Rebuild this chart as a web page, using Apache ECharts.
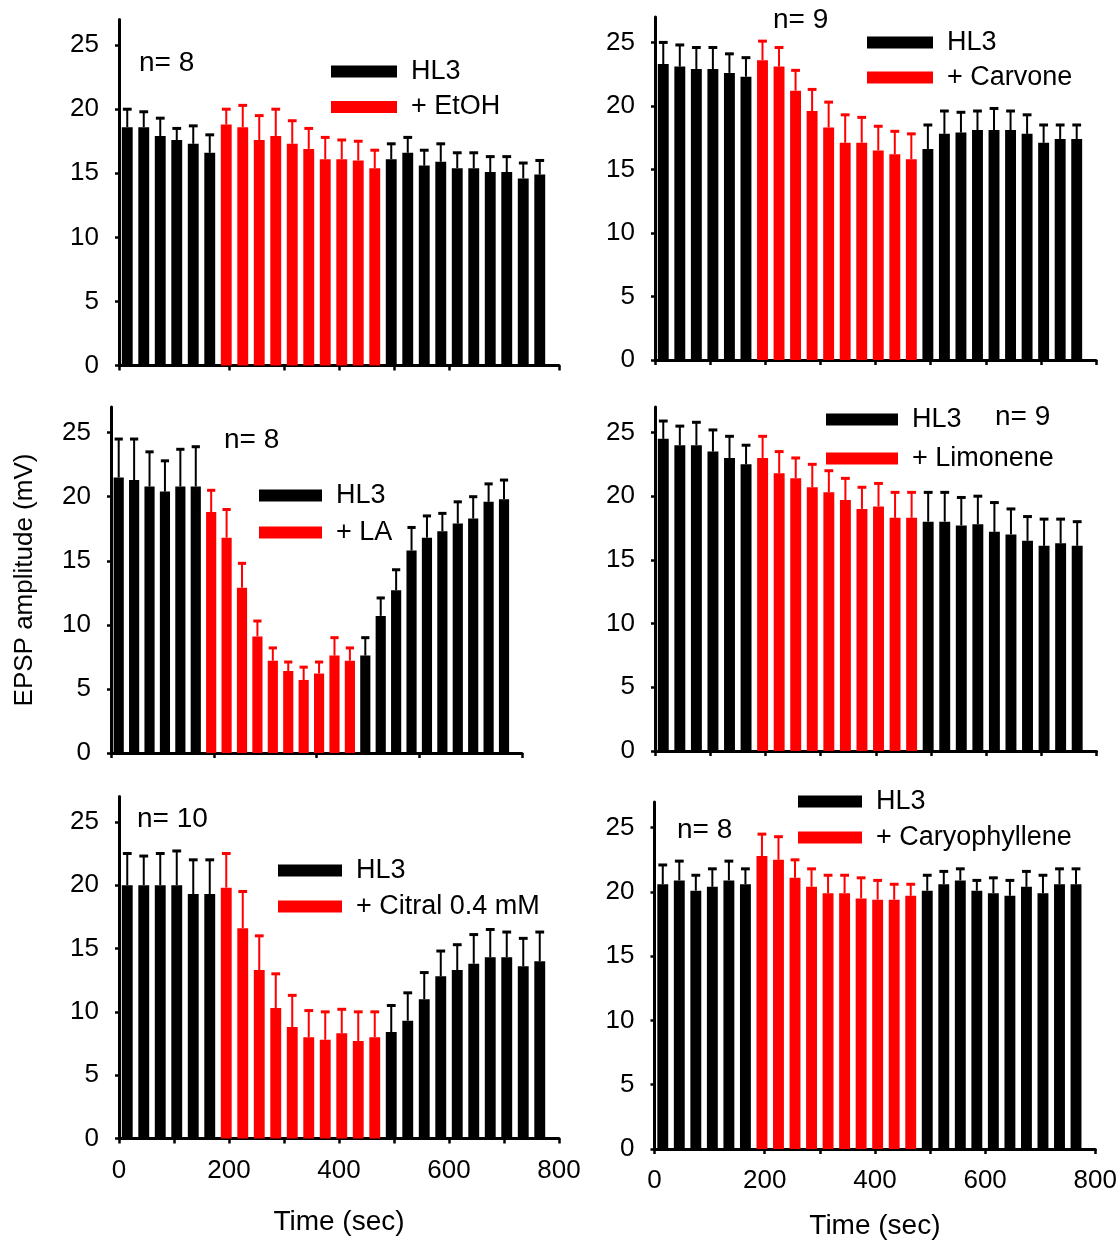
<!DOCTYPE html>
<html>
<head>
<meta charset="utf-8">
<script src="https://cdn.jsdelivr.net/npm/echarts@6/dist/echarts.min.js"></script>
<style>
  html, body { margin: 0; padding: 0; background: #ffffff; }
  #chart { width: 1120px; height: 1243px; }
</style>
</head>
<body>
<div id="chart"></div>
<script>
// Sampling times (s): one EPSP amplitude bin every 30 s
const timeSec = [15, 45, 75, 105, 135, 165, 195, 225, 255, 285, 315, 345, 375,
                 405, 435, 465, 495, 525, 555, 585, 615, 645, 675, 705, 735, 765];
// Drug perfusion window (first and last treated bin)
const drugWindow = [195, 465];

const yTickValues = [0, 5, 10, 15, 20, 25];
const xLabelValues = [0, 200, 400, 600, 800];

// Mean EPSP amplitude (mV) and SEM for each experiment
const etohMean = [18.6, 18.6, 17.9, 17.6, 17.3, 16.6, 18.8, 18.6, 17.6, 17.9, 17.3, 16.9, 16.1,
                  16.1, 16.0, 15.4, 16.1, 16.6, 15.6, 15.9, 15.4, 15.4, 15.1, 15.1, 14.6, 14.9];
const etohErr  = [1.4, 1.2, 1.4, 0.9, 1.4, 1.4, 1.2, 1.7, 1.9, 2.1, 1.8, 1.6, 1.7,
                  1.5, 1.5, 1.4, 1.2, 1.2, 1.2, 1.4, 1.2, 1.2, 1.2, 1.2, 1.2, 1.1];

const carvoneMean = [23.3, 23.1, 22.9, 22.9, 22.6, 22.3, 23.6, 23.1, 21.2, 19.6, 18.3, 17.1, 17.1,
                     16.5, 16.2, 15.8, 16.6, 17.8, 17.9, 18.1, 18.1, 18.1, 17.8, 17.1, 17.4, 17.4];
const carvoneErr  = [1.7, 1.7, 1.7, 1.7, 1.5, 1.5, 1.5, 1.5, 1.6, 1.7, 2.0, 2.2, 2.0,
                     1.9, 1.8, 2.0, 1.9, 1.8, 1.6, 1.5, 1.7, 1.5, 1.5, 1.4, 1.1, 1.1];

const laMean = [21.5, 21.3, 20.8, 20.4, 20.8, 20.8, 18.8, 16.8, 12.9, 9.1, 7.2, 6.4, 5.7,
                6.2, 7.6, 7.2, 7.6, 10.7, 12.7, 15.8, 16.8, 17.3, 17.9, 18.3, 19.6, 19.8];
const laErr  = [3.0, 3.2, 2.7, 2.4, 2.9, 3.1, 1.7, 2.2, 1.9, 1.2, 1.0, 0.7, 1.0,
                0.9, 1.4, 1.0, 1.4, 1.4, 1.6, 1.8, 1.7, 1.4, 1.7, 1.7, 1.4, 1.5];

const limoneneMean = [24.5, 24.0, 24.0, 23.5, 23.0, 22.5, 23.0, 21.8, 21.4, 20.7, 20.3, 19.7, 19.0,
                      19.2, 18.3, 18.3, 18.0, 18.0, 17.7, 17.8, 17.2, 17.0, 16.5, 16.1, 16.3, 16.1];
const limoneneErr  = [1.4, 1.5, 1.8, 1.7, 1.7, 1.5, 1.7, 1.7, 1.6, 1.8, 1.7, 1.7, 1.7,
                      1.8, 2.0, 2.0, 2.3, 2.3, 2.2, 2.2, 2.3, 2.0, 1.9, 2.1, 1.9, 1.9];

const citralMean = [20.0, 20.0, 20.0, 20.0, 19.3, 19.3, 19.8, 16.6, 13.3, 10.3, 8.8, 8.0, 7.8,
                    8.3, 7.7, 8.0, 8.4, 9.3, 11.0, 12.8, 13.3, 13.8, 14.3, 14.3, 13.6, 14.0];
const citralErr  = [2.5, 2.3, 2.5, 2.7, 2.7, 2.7, 2.7, 2.9, 2.7, 2.7, 2.5, 2.1, 2.2,
                    1.9, 2.3, 2.0, 2.1, 2.2, 2.1, 2.0, 2.0, 2.3, 2.2, 2.0, 2.2, 2.3];

const caryophylleneMean = [20.6, 20.9, 20.1, 20.4, 20.9, 20.6, 22.8, 22.5, 21.1, 20.4, 19.9, 19.9, 19.5,
                           19.4, 19.4, 19.7, 20.1, 20.6, 20.9, 20.1, 19.9, 19.7, 20.4, 19.9, 20.6, 20.6];
const caryophylleneErr  = [1.5, 1.5, 1.2, 1.4, 1.5, 1.2, 1.7, 1.8, 1.4, 1.4, 1.4, 1.4, 1.6,
                           1.5, 1.2, 0.9, 1.2, 1.0, 0.9, 0.8, 1.2, 1.2, 1.2, 1.4, 1.2, 1.2];

const BLACK = '#000000';
const RED = '#ff0000';
const FONT = '"Liberation Sans", Arial, sans-serif';

// Panel layout: plot rectangle, legend and sample-size label placement
const panels = [
  { mean: etohMean, err: etohErr, drug: '+ EtOH', n: 'n= 8',
    grid: { left: 119, top: 19.5, width: 440, height: 346 },
    xTicks: [0, 200, 300, 400, 500, 600, 800], xLabels: false,
    legend: { left: 331, cy: 71, gap: 34.5, w: 66 }, nPos: { left: 139, cy: 63 } },
  { mean: carvoneMean, err: carvoneErr, drug: '+ Carvone', n: 'n= 9',
    grid: { left: 655, top: 17, width: 441, height: 343 },
    xTicks: [0, 100, 200, 300, 400, 500, 600, 700, 800], xLabels: false,
    legend: { left: 867, cy: 42, gap: 34, w: 66 }, nPos: { left: 773, cy: 20 } },
  { mean: laMean, err: laErr, drug: '+ LA', n: 'n= 8',
    grid: { left: 111, top: 407, width: 411, height: 346 },
    xTicks: [0, 200, 400, 600, 800], xLabels: false, yTitle: true,
    legend: { left: 259, cy: 495, gap: 36, w: 63 }, nPos: { left: 224, cy: 440 } },
  { mean: limoneneMean, err: limoneneErr, drug: '+ Limonene', n: 'n= 9',
    grid: { left: 655, top: 407, width: 441.5, height: 344 },
    xTicks: [0, 100, 200, 300, 400, 500, 600, 700, 800], xLabels: false,
    legend: { left: 826, cy: 419, gap: 38, w: 72 }, nPos: { left: 995, cy: 417 } },
  { mean: citralMean, err: citralErr, drug: '+ Citral 0.4 mM', n: 'n= 10',
    grid: { left: 119, top: 796.5, width: 440, height: 342 },
    xTicks: [0, 100, 200, 300, 400, 500, 600, 700, 800], xLabels: true,
    legend: { left: 278, cy: 870, gap: 35, w: 64 }, nPos: { left: 137, cy: 819 } },
  { mean: caryophylleneMean, err: caryophylleneErr, drug: '+ Caryophyllene', n: 'n= 8',
    grid: { left: 654.5, top: 802, width: 442, height: 347 },
    xTicks: [0, 200, 300, 400, 500, 600, 800], xLabels: true,
    legend: { left: 798, cy: 801, gap: 35, w: 64 }, nPos: { left: 677, cy: 830 } }
];

const isDrug = t => t >= drugWindow[0] && t <= drugWindow[1];

const option = {
  backgroundColor: '#ffffff',
  animation: false,
  textStyle: { fontFamily: FONT },
  grid: [], xAxis: [], yAxis: [], series: [], legend: [], title: []
};

panels.forEach((p, i) => {
  option.grid.push(Object.assign({ containLabel: false }, p.grid));

  option.xAxis.push({
    type: 'value', gridIndex: i, min: 0, max: 800,
    axisLine: { show: true, onZero: false, lineStyle: { color: BLACK, width: 3 } },
    axisTick: { show: true, inside: false, length: 5, customValues: p.xTicks,
                lineStyle: { color: BLACK, width: 2.5 } },
    axisLabel: { show: p.xLabels, customValues: xLabelValues, margin: 19,
                 color: BLACK, fontSize: 26, fontFamily: FONT },
    splitLine: { show: false },
    name: p.xLabels ? 'Time (sec)' : '',
    nameLocation: 'middle', nameGap: i === 4 ? 70 : 63,
    nameTextStyle: { color: BLACK, fontSize: 28, fontFamily: FONT }
  });

  option.yAxis.push({
    type: 'value', gridIndex: i, min: 0, max: 27,
    axisLine: { show: true, lineStyle: { color: BLACK, width: 3 } },
    axisTick: { show: true, inside: false, length: 4, customValues: yTickValues,
                lineStyle: { color: BLACK, width: 2.5 } },
    axisLabel: { customValues: yTickValues, margin: 20, color: BLACK,
                 fontSize: 26, fontFamily: FONT },
    splitLine: { show: false },
    name: p.yTitle ? 'EPSP amplitude (mV)' : '',
    nameLocation: 'middle', nameGap: 73, nameRotate: 90,
    nameTextStyle: { color: BLACK, fontSize: 26, fontFamily: FONT }
  });

  const control = [], treated = [], whiskers = [];
  timeSec.forEach((t, k) => {
    (isDrug(t) ? treated : control).push([t, p.mean[k]]);
    whiskers.push([t, p.mean[k], p.err[k], isDrug(t) ? 1 : 0]);
  });

  option.series.push({
    name: 'HL3', type: 'bar', xAxisIndex: i, yAxisIndex: i,
    data: control, barWidth: '66%', barGap: '-100%',
    itemStyle: { color: BLACK }, z: 2
  });
  option.series.push({
    name: p.drug, type: 'bar', xAxisIndex: i, yAxisIndex: i,
    data: treated, barWidth: '66%', barGap: '-100%',
    itemStyle: { color: RED }, z: 2
  });
  // Upper SEM whiskers
  option.series.push({
    type: 'custom', xAxisIndex: i, yAxisIndex: i, data: whiskers, z: 3,
    renderItem: function (params, api) {
      const t = api.value(0), v = api.value(1), e = api.value(2);
      const base = api.coord([t, v]);
      const top = api.coord([t, v + e]);
      const half = api.size([16, 0])[0] / 2;
      const color = api.value(3) ? RED : BLACK;
      return {
        type: 'group',
        children: [
          { type: 'line', shape: { x1: base[0], y1: base[1], x2: top[0], y2: top[1] },
            style: { stroke: color, lineWidth: 2 } },
          { type: 'line', shape: { x1: top[0] - half, y1: top[1], x2: top[0] + half, y2: top[1] },
            style: { stroke: color, lineWidth: 3 } }
        ]
      };
    }
  });

  option.legend.push({
    orient: 'vertical', left: p.legend.left, top: p.legend.cy - 13,
    padding: 0, itemGap: p.legend.gap - 26,
    itemWidth: p.legend.w, itemHeight: 12, icon: 'rect',
    selectedMode: false,
    data: ['HL3', p.drug],
    textStyle: { color: BLACK, fontSize: 27, lineHeight: 26, fontFamily: FONT,
                 padding: [0, 0, 0, 9] }
  });

  option.title.push({
    text: p.n, left: p.nPos.left, top: p.nPos.cy - 14, padding: 0,
    textStyle: { color: BLACK, fontSize: 28, lineHeight: 28, fontWeight: 'normal', fontFamily: FONT }
  });
});

const chart = echarts.init(document.getElementById('chart'), null, { renderer: 'canvas' });
chart.setOption(option);
</script>
</body>
</html>
